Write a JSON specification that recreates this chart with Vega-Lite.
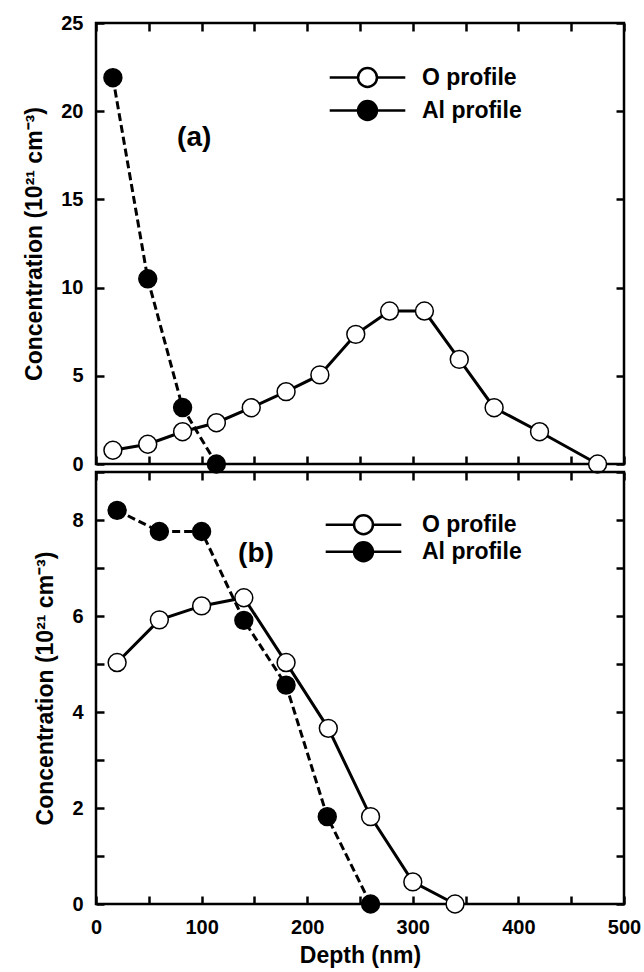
{
  "$schema": "https://vega.github.io/schema/vega-lite/v6.json",
  "background": "white",
  "padding": {"left": 22, "top": 11, "right": 0, "bottom": 4},
  "bounds": "flush",
  "spacing": 8,
  "config": {
    "view": {"stroke": "black", "strokeWidth": 2.5},
    "axis": {
      "grid": false, "domain": false, "ticks": true, "tickColor": "#000000", "tickOpacity": 1, "tickWidth": 2.5, "labelFlush": false,
      "labelFont": "Liberation Sans", "labelFontWeight": "bold", "labelFontSize": 20, "labelColor": "black", "labelPadding": 21,
      "titleFont": "Liberation Sans", "titleFontWeight": "bold", "titleFontSize": 23, "titleColor": "black", "titlePadding": 14
    }
  },
  "datasets": {
    "a": [
      {"depth": 16, "conc": 0.78, "series": "O profile"},
      {"depth": 49, "conc": 1.12, "series": "O profile"},
      {"depth": 82, "conc": 1.83, "series": "O profile"},
      {"depth": 114, "conc": 2.34, "series": "O profile"},
      {"depth": 147, "conc": 3.19, "series": "O profile"},
      {"depth": 180, "conc": 4.1, "series": "O profile"},
      {"depth": 212, "conc": 5.05, "series": "O profile"},
      {"depth": 246, "conc": 7.35, "series": "O profile"},
      {"depth": 278, "conc": 8.67, "series": "O profile"},
      {"depth": 311, "conc": 8.67, "series": "O profile"},
      {"depth": 344, "conc": 5.93, "series": "O profile"},
      {"depth": 377, "conc": 3.19, "series": "O profile"},
      {"depth": 420, "conc": 1.83, "series": "O profile"},
      {"depth": 475, "conc": 0, "series": "O profile"},
      {"depth": 16, "conc": 21.9, "series": "Al profile"},
      {"depth": 49, "conc": 10.5, "series": "Al profile"},
      {"depth": 82, "conc": 3.2, "series": "Al profile"},
      {"depth": 114, "conc": 0, "series": "Al profile"}
    ],
    "b": [
      {"depth": 20, "conc": 5.03, "series": "O profile"},
      {"depth": 60, "conc": 5.92, "series": "O profile"},
      {"depth": 100, "conc": 6.21, "series": "O profile"},
      {"depth": 140, "conc": 6.38, "series": "O profile"},
      {"depth": 180, "conc": 5.03, "series": "O profile"},
      {"depth": 220, "conc": 3.66, "series": "O profile"},
      {"depth": 260, "conc": 1.82, "series": "O profile"},
      {"depth": 300, "conc": 0.46, "series": "O profile"},
      {"depth": 340, "conc": 0, "series": "O profile"},
      {"depth": 20, "conc": 8.2, "series": "Al profile"},
      {"depth": 60, "conc": 7.76, "series": "Al profile"},
      {"depth": 100, "conc": 7.76, "series": "Al profile"},
      {"depth": 140, "conc": 5.91, "series": "Al profile"},
      {"depth": 180, "conc": 4.56, "series": "Al profile"},
      {"depth": 219, "conc": 1.82, "series": "Al profile"},
      {"depth": 260, "conc": 0, "series": "Al profile"}
    ]
  },
  "resolve": {"scale": {"fill": "independent"}, "legend": {"fill": "independent"}},
  "vconcat": [
    {
      "width": 528, "height": 441,
      "resolve": {"axis": {"x": "independent", "y": "independent"}},
      "layer": [
        {
          "data": {"name": "a"},
          "transform": [{"filter": "datum.series === 'O profile'"}],
          "mark": {"type": "line", "color": "black", "strokeWidth": 3},
          "encoding": {
            "x": {"field": "depth", "type": "quantitative", "scale": {"domain": [0, 500], "nice": false},
                  "axis": {"orient": "bottom", "tickCount": 10, "tickSize": -8, "labels": false, "title": null}},
            "y": {"field": "conc", "type": "quantitative", "scale": {"domain": [0, 25], "nice": false},
                  "axis": {"orient": "left", "tickCount": 5, "tickSize": -8, "title": "Concentration (10²¹ cm⁻³)"}}
          }
        },
        {
          "data": {"name": "a"},
          "transform": [{"filter": "datum.series === 'Al profile'"}],
          "mark": {"type": "line", "color": "black", "strokeWidth": 3, "strokeDash": [8, 4]},
          "encoding": {
            "x": {"field": "depth", "type": "quantitative", "axis": null},
            "y": {"field": "conc", "type": "quantitative", "axis": null}
          }
        },
        {
          "data": {"name": "a"},
          "mark": {"type": "point", "shape": "circle", "filled": true, "stroke": "black", "strokeWidth": 1.5, "size": 320, "opacity": 1},
          "encoding": {
            "x": {"field": "depth", "type": "quantitative",
                  "axis": {"orient": "top", "tickCount": 10, "tickSize": -8, "labels": false, "title": null}},
            "y": {"field": "conc", "type": "quantitative",
                  "axis": {"orient": "right", "tickCount": 5, "tickSize": -8, "labels": false, "title": null}},
            "fill": {"field": "series", "type": "nominal", "scale": {"domain": ["O profile", "Al profile"], "range": ["white", "black"]},
                  "legend": {"title": null, "orient": "none", "legendX": 233, "legendY": 42.5, "padding": 0,
                    "symbolType": "M-3.6,0H-0.9M0.9,0H3.6M0.9,0A0.9,0.9 0 1,1 -0.9,0A0.9,0.9 0 1,1 0.9,0Z",
                    "symbolSize": 441, "symbolStrokeColor": "black", "symbolStrokeWidth": 2.5, "symbolOffset": 26.5, "labelOffset": 42.5,
                    "labelFont": "Liberation Sans", "labelFontWeight": "bold", "labelFontSize": 23, "labelColor": "black", "rowPadding": 3,
                    "encode": {"symbols": {"update": {"strokeDash": {"signal": "datum.value === 'Al profile' ? [5, 3] : [1, 0]"}}}}}}
          }
        },
        {
          "data": {"values": [{"label": "(a)"}]},
          "mark": {"type": "text", "font": "Liberation Sans", "fontWeight": "bold", "fontSize": 28, "color": "black"},
          "encoding": {
            "text": {"field": "label"},
            "x": {"datum": 93, "type": "quantitative", "axis": null},
            "y": {"datum": 18.5, "type": "quantitative", "axis": null}
          }
        }
      ]
    },
    {
      "width": 528, "height": 432,
      "resolve": {"axis": {"x": "independent", "y": "independent"}},
      "layer": [
        {
          "data": {"name": "b"},
          "transform": [{"filter": "datum.series === 'O profile'"}],
          "mark": {"type": "line", "color": "black", "strokeWidth": 3},
          "encoding": {
            "x": {"field": "depth", "type": "quantitative", "scale": {"domain": [0, 500], "nice": false},
                  "axis": {"orient": "bottom", "tickCount": 10, "tickSize": -8, "labelExpr": "datum.value % 100 == 0 ? datum.label : ''", "title": "Depth (nm)", "titlePadding": 7}},
            "y": {"field": "conc", "type": "quantitative", "scale": {"domain": [0, 9], "nice": false},
                  "axis": {"orient": "left", "tickCount": 9, "tickSize": -8, "labelExpr": "datum.value % 2 == 0 ? datum.label : ''", "title": "Concentration (10²¹ cm⁻³)"}}
          }
        },
        {
          "data": {"name": "b"},
          "transform": [{"filter": "datum.series === 'Al profile'"}],
          "mark": {"type": "line", "color": "black", "strokeWidth": 3, "strokeDash": [8, 4]},
          "encoding": {
            "x": {"field": "depth", "type": "quantitative", "axis": null},
            "y": {"field": "conc", "type": "quantitative", "axis": null}
          }
        },
        {
          "data": {"name": "b"},
          "mark": {"type": "point", "shape": "circle", "filled": true, "stroke": "black", "strokeWidth": 1.5, "size": 320, "opacity": 1},
          "encoding": {
            "x": {"field": "depth", "type": "quantitative",
                  "axis": {"orient": "top", "tickCount": 10, "tickSize": -8, "labels": false, "title": null}},
            "y": {"field": "conc", "type": "quantitative",
                  "axis": {"orient": "right", "tickCount": 9, "tickSize": -8, "labels": false, "title": null}},
            "fill": {"field": "series", "type": "nominal", "scale": {"domain": ["O profile", "Al profile"], "range": ["white", "black"]},
                  "legend": {"title": null, "orient": "none", "legendX": 229, "legendY": 40.7, "padding": 0,
                    "symbolType": "M-3.6,0H-0.9M0.9,0H3.6M0.9,0A0.9,0.9 0 1,1 -0.9,0A0.9,0.9 0 1,1 0.9,0Z",
                    "symbolSize": 441, "symbolStrokeColor": "black", "symbolStrokeWidth": 2.5, "symbolOffset": 26.5, "labelOffset": 46.5,
                    "labelFont": "Liberation Sans", "labelFontWeight": "bold", "labelFontSize": 23, "labelColor": "black", "rowPadding": -5,
                    "encode": {"symbols": {"update": {"strokeDash": {"signal": "datum.value === 'Al profile' ? [5, 3] : [1, 0]"}}}}}}
          }
        },
        {
          "data": {"values": [{"label": "(b)"}]},
          "mark": {"type": "text", "font": "Liberation Sans", "fontWeight": "bold", "fontSize": 28, "color": "black"},
          "encoding": {
            "text": {"field": "label"},
            "x": {"datum": 151.5, "type": "quantitative", "axis": null},
            "y": {"datum": 7.3, "type": "quantitative", "axis": null}
          }
        }
      ]
    }
  ]
}
